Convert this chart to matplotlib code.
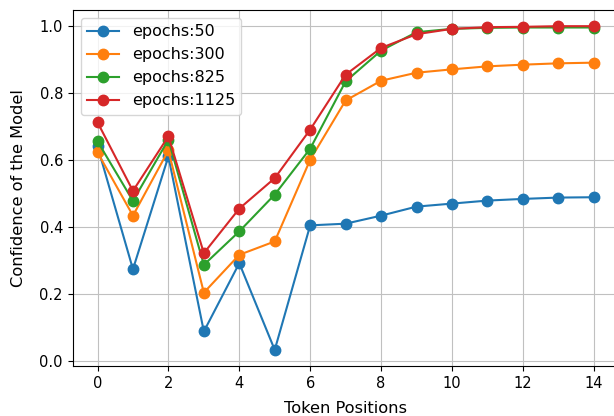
import matplotlib
matplotlib.use("Agg")
import matplotlib.pyplot as plt
import numpy as np

# token positions and model confidence per training length
positions = list(range(15))
conf_50 = [0.641, 0.274, 0.611, 0.088, 0.292, 0.033, 0.405, 0.41, 0.434, 0.461, 0.47, 0.479, 0.484, 0.488, 0.489]
conf_300 = [0.623, 0.434, 0.629, 0.204, 0.317, 0.357, 0.601, 0.778, 0.837, 0.861, 0.871, 0.88, 0.885, 0.889, 0.891]
conf_825 = [0.656, 0.478, 0.661, 0.287, 0.387, 0.497, 0.634, 0.835, 0.927, 0.982, 0.992, 0.995, 0.996, 0.996, 0.996]
conf_1125 = [0.713, 0.508, 0.671, 0.322, 0.455, 0.546, 0.691, 0.855, 0.935, 0.976, 0.992, 0.997, 0.998, 1.0, 1.0]
labels = ["epochs:50", "epochs:300", "epochs:825", "epochs:1125"]

fig = plt.figure(figsize=(6.14, 4.16), dpi=100)
ax = fig.add_axes([0.1184, 0.120, 0.889, 0.856])

for ys, lab in zip([conf_50, conf_300, conf_825, conf_1125], labels):
    ax.plot(positions, ys, marker="o", markersize=7.5, label=lab)

ax.set_xticks(range(0, 15, 2))
ax.tick_params(labelsize=10.5)
ax.grid(True, color="#c0c0c0")
ax.set_xlabel("Token Positions", fontsize=11.7, labelpad=7.5)
ax.set_ylabel("Confidence of the Model", fontsize=11.7, labelpad=9.5)
ax.legend(loc="upper left", fontsize=11.5)

fig.savefig("out.png", dpi=100)
